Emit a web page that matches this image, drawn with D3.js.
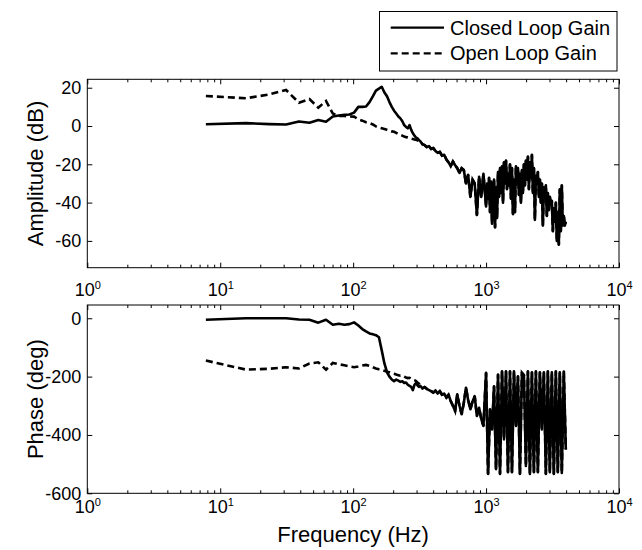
<!DOCTYPE html>
<html>
<head>
<meta charset="utf-8">
<script src="https://cdn.jsdelivr.net/npm/d3@7"></script>
<style>
body { margin: 0; background: #fff; }
svg { font-family: Arial, "Liberation Sans", sans-serif; }
</style>
</head>
<body>
<svg></svg>
<script>
// frequency points (Hz), low part on the FFT grid, high part
const freqLow = [7.8, 15.6, 23.4, 31.3, 39.1, 46.9, 54.7, 62.5, 70.3, 78.1,
  85.9, 93.8, 101.6, 109.4, 117.2, 125.0, 132.8, 140.6, 148.4, 156.3,
  164.1, 171.9, 179.7, 187.5, 195.3, 203.1, 210.9, 218.8, 226.6, 234.4,
  242.2, 250.0, 257.8, 265.6, 273.4, 281.3, 289.1, 296.9, 304.7, 312.5];

const freqMid = [320, 332, 345, 358, 372, 386, 401, 416, 432, 449,
  466, 484, 503, 522, 542, 563, 585, 607, 631, 655,
  680, 706, 733, 762, 791, 821, 853, 886, 920, 955];

// amplitude panel: finer points above 1 kHz
const freqAmpTop = [1000, 1017, 1035, 1053, 1071, 1090, 1109, 1128, 1148, 1168,
  1188, 1209, 1230, 1251, 1273, 1295, 1318, 1341, 1364, 1388,
  1412, 1436, 1461, 1487, 1513, 1539, 1566, 1593, 1621, 1649,
  1678, 1707, 1737, 1767, 1798, 1829, 1861, 1893, 1926, 1960,
  1994, 2029, 2064, 2100, 2137, 2174, 2212, 2250, 2290, 2329,
  2370, 2411, 2453, 2496, 2540, 2584, 2629, 2674, 2721, 2768,
  2817, 2866, 2916, 2966, 3018, 3071, 3124, 3179, 3234, 3290,
  3348, 3406, 3465, 3526, 3587, 3650, 3713, 3778, 3844, 3911,
  3980];

// phase panel: points above 1 kHz
const freqPhaseTop = [1000, 1035, 1071, 1109, 1148, 1188, 1230, 1273, 1318, 1364,
  1412, 1461, 1513, 1566, 1621, 1678, 1737, 1798, 1861, 1926,
  1994, 2064, 2137, 2212, 2290, 2370, 2453, 2540, 2629, 2721,
  2817, 2916, 3018, 3124, 3234, 3348, 3465, 3587, 3713, 3844,
  3980];

// amplitude (dB)
const closedAmpLow = [0.9, 1.5, 1.0, 0.8, 2.4, 1.7, 3.1, 2.2, 5.0, 5.5,
  5.8, 6.0, 7.0, 10.0, 10.0, 10.2, 12.5, 15.5, 18.5, 19.5,
  20.5, 17.5, 15.5, 12.5, 10.0, 8.0, 6.5, 5.0, 4.0, 2.5,
  0.5, -0.5, -1.2, 0.5, -2.0, -3.8, -5.0, -6.0, -6.5, -7.3];
const openAmpLow = [15.7, 14.5, 16.5, 18.8, 12.2, 14.1, 9.6, 13.1, 6.5, 5.2,
  5.2, 5.0, 4.9, 3.5, 2.8, 2.0, 1.5, 0.8, -0.2, -0.8,
  -1.2, -1.6, -2.0, -2.4, -2.8, -3.0, -3.6, -4.2, -4.6, -5.0,
  -5.5, -5.8, -6.0, -6.3, -6.6, -6.8, -7.0, -7.2, -7.5, -7.8];
const ampMid = [-8, -9.5, -10, -11, -10.5, -12, -11.5, -13, -14, -13.5,
  -15.5, -15, -17.5, -19, -21, -18.5, -20.5, -22, -24.5, -22,
  -23, -30, -25.5, -37, -28, -30, -46.5, -26.5, -37, -25];
const ampTop = [-42, -30, -38, -27, -45, -29, -51, -33, -28, -53,
  -32, -48, -24, -37, -22, -35, -21, -40, -19, -30,
  -18, -33, -25, -31, -20, -38, -22, -46, -28, -45,
  -21, -30, -22, -36, -25, -40, -23, -35, -20, -31,
  -18, -28, -16, -33, -19, -27, -15, -35, -22, -49,
  -26, -30, -24, -37, -28, -40, -30, -52, -32, -38,
  -31, -47, -35, -44, -37, -41, -39, -55, -43, -50,
  -40, -60, -45, -62, -33, -55, -31, -52, -47, -52,
  -50];

// phase (deg)
const closedPhaseLow = [-5, 0, 0, 0, -4, -5, -15, -5, -22, -19,
  -22, -20, -14, -25, -37, -45, -52, -55, -58, -65,
  -110, -155, -185, -200, -210, -216, -210, -214, -218, -216,
  -222, -220, -228, -232, -235, -246, -228, -222, -230, -235];
const openPhaseLow = [-145, -176, -173, -168, -172, -155, -151, -176, -153, -158,
  -161, -165, -168, -165, -162, -160, -163, -168, -172, -175,
  -177, -180, -183, -185, -188, -190, -193, -195, -197, -196,
  -200, -203, -205, -204, -208, -210, -212, -215, -220, -224];
const phaseMid = [-232, -240, -236, -242, -246, -250, -255, -248, -258, -250,
  -262, -258, -272, -262, -284, -300, -318, -261, -300, -329,
  -290, -238, -280, -312, -285, -267, -335, -307, -345, -369];
const phaseTop = [-187, -534, -312, -381, -233, -517, -193, -534, -182, -415,
  -182, -528, -182, -528, -182, -369, -199, -534, -187, -195,
  -506, -182, -534, -185, -528, -182, -528, -185, -381, -185,
  -534, -182, -528, -185, -534, -182, -528, -185, -530, -183,
  -450];

const xTicks = [1, 10, 100, 1000, 10000];
const ampTicks = [-60, -40, -20, 0, 20];
const phaseTicks = [-600, -400, -200, 0];
const legendLabels = ['Closed Loop Gain', 'Open Loop Gain'];

// stitch the pieces (open and closed coincide above ~300 Hz)
const freqAmp = freqLow.concat(freqMid, freqAmpTop);
const freqPhase = freqLow.concat(freqMid, freqPhaseTop);
const closedAmp = closedAmpLow.concat(ampMid, ampTop);
const openAmp = openAmpLow.concat(ampMid, ampTop);
const closedPhase = closedPhaseLow.concat(phaseMid, phaseTop);
const openPhase = openPhaseLow.concat(phaseMid, phaseTop);

const w = 642;
const h = 550;
const left = 87.3;
const right = 619;
const pw = right - left;

const svg = d3.select('svg').attr('width', w).attr('height', h);

const xScale = d3.scaleLog().domain([1, 10000]).range([0, pw]);

let minorTicks = [];
for (let k = 0; k < 4; k++) {
  for (let m = 2; m < 10; m++) minorTicks.push(m * Math.pow(10, k));
}

// write 10^n labels with a raised exponent
const powLabels = (g, base) => {
  g.selectAll('.tick text').each(function (d) {
    const t = d3.select(this);
    t.text(null).attr('y', base).attr('dy', null);
    t.append('tspan').text('10');
    t.append('tspan').attr('dy', '-0.65em').attr('font-size', '11px')
      .text(Math.round(Math.log10(d)));
  });
};

const drawPanel = (top, ph, yDomain, yTicks, freq, closed, open, labelBase, yLabel) => {
  const yScale = d3.scaleLinear().domain(yDomain).range([ph, 0]);
  const g = svg.append('g').attr('transform', 'translate(' + left + ',' + top + ')');

  // minor ticks bottom/top
  g.append('g').attr('transform', 'translate(0,' + ph + ')')
    .call(d3.axisBottom(xScale).tickValues(minorTicks).tickSize(-3).tickFormat(''));
  g.append('g')
    .call(d3.axisTop(xScale).tickValues(minorTicks).tickSize(-3).tickFormat(''));

  const xb = g.append('g').attr('transform', 'translate(0,' + ph + ')')
    .call(d3.axisBottom(xScale).tickValues(xTicks).tickSize(-5).tickPadding(0));
  powLabels(xb, labelBase);
  g.append('g').call(d3.axisTop(xScale).tickValues(xTicks).tickSize(-5).tickFormat(''));

  g.append('g')
    .call(d3.axisLeft(yScale).tickValues(yTicks).tickSize(-5).tickPadding(6)
      .tickFormat(d => String(d)));
  g.append('g').attr('transform', 'translate(' + pw + ',0)')
    .call(d3.axisRight(yScale).tickValues(yTicks).tickSize(-5).tickFormat(''));

  g.selectAll('.domain').remove();
  g.selectAll('.tick text').attr('font-size', '18px').attr('fill', '#000');
  g.selectAll('.tick line').attr('stroke', '#000');

  g.append('rect').attr('width', pw).attr('height', ph)
    .attr('fill', 'none').attr('stroke', '#000').attr('stroke-width', 1);

  const line = d3.line()
    .x((d, i) => xScale(freq[i]))
    .y(d => yScale(d));

  g.append('path').datum(open)
    .attr('d', line).attr('fill', 'none').attr('stroke', '#000')
    .attr('stroke-width', 2.6).attr('stroke-dasharray', '7,4');
  g.append('path').datum(closed)
    .attr('d', line).attr('fill', 'none').attr('stroke', '#000')
    .attr('stroke-width', 2.6).attr('stroke-linejoin', 'round');

  svg.append('text')
    .attr('transform', 'translate(43,' + (top + ph / 2) + ') rotate(-90)')
    .attr('text-anchor', 'middle').attr('font-size', '22px')
    .text(yLabel);
};

drawPanel(79.3, 188.4, [-74, 24.4], ampTicks, freqAmp, closedAmp, openAmp, 28.5, 'Amplitude (dB)');
drawPanel(305, 188.3, [-600, 45.5], phaseTicks, freqPhase, closedPhase, openPhase, 20, 'Phase (deg)');

svg.append('text')
  .attr('x', left + pw / 2).attr('y', 542)
  .attr('text-anchor', 'middle').attr('font-size', '22px')
  .text('Frequency (Hz)');

// legend
const legend = svg.append('g');
legend.append('rect')
  .attr('x', 379.5).attr('y', 11.5).attr('width', 237.5).attr('height', 59.5)
  .attr('fill', '#fff').attr('stroke', '#000').attr('stroke-width', 1);
const rows = legend.selectAll('.row').data(legendLabels).enter().append('g')
  .attr('transform', (d, i) => 'translate(0,' + (27.7 + i * 25.6) + ')');
rows.append('line')
  .attr('x1', 390.7).attr('x2', 444).attr('stroke', '#000').attr('stroke-width', 2.2)
  .attr('stroke-dasharray', (d, i) => i === 1 ? '7,4' : null);
rows.append('text')
  .attr('x', 450).attr('y', 7).attr('font-size', '20px').text(d => d);
</script>
</body>
</html>
